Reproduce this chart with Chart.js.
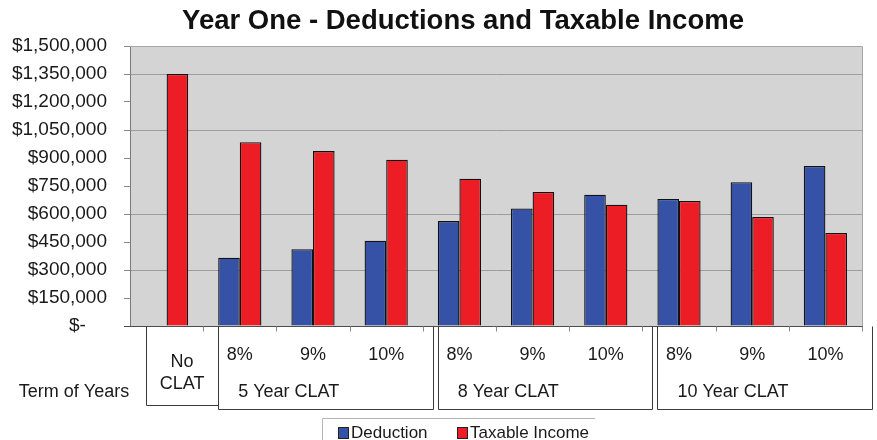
<!DOCTYPE html>
<html>
<head>
<meta charset="utf-8">
<script src="https://cdn.jsdelivr.net/npm/chart.js@4.4.1/dist/chart.umd.min.js"></script>
<style>
html, body { margin: 0; padding: 0; background: #fff; }
#wrap { width: 877px; height: 440px; position: relative; }
</style>
</head>
<body>
<div id="wrap"><canvas id="chart"></canvas></div>
<script>
'use strict';

// Data
var categories    = ['No CLAT', '8%', '9%', '10%', '8%', '9%', '10%', '8%', '9%', '10%'];
var groupLabels   = ['5 Year CLAT', '8 Year CLAT', '10 Year CLAT'];
var groupStarts   = [1, 4, 7];
var groupEnds     = [3, 6, 9];
var deduction     = [null, 366000, 411000, 457000, 562000, 630000, 703000, 680000, 770000, 857000];
var taxableIncome = [1350000, 984000, 937000, 891000, 789000, 718000, 650000, 670000, 584000, 498000];
var yTicks        = [0, 150000, 300000, 450000, 600000, 750000, 900000, 1050000, 1200000, 1350000, 1500000];
var gridValues    = [300000, 600000, 1050000, 1350000];

var FONT = 'Liberation Sans, Arial, Helvetica, sans-serif';
var BLUE = '#3652a6';
var RED  = '#ed1d25';

/**
 * Money label, accounting style
 */
function money(v) {
    if (v === 0) {
        return '$-\u00a0\u00a0\u00a0\u00a0';
    }
    return '$' + v.toLocaleString('en-US');
}

/**
 * Plot background, title, category boxes and legend
 */
var decor = {
    id: 'decor',
    beforeDraw: function (chart) {
        var ctx  = chart.ctx;
        var area = chart.chartArea;
        ctx.save();
        ctx.fillStyle = '#fff';
        ctx.fillRect(0, 0, chart.width, chart.height);
        ctx.fillStyle = '#d4d4d4';
        ctx.fillRect(area.left, area.top, area.right - area.left, area.bottom - area.top);
        ctx.restore();
    },
    afterDraw: function (chart) {
        var ctx  = chart.ctx;
        var area = chart.chartArea;
        var n    = categories.length;
        var w    = (area.right - area.left) / n;
        var edge = function (i) { return area.left + i * w; };
        var i;

        ctx.save();

        // plot frame
        ctx.lineWidth = 1;
        ctx.strokeStyle = '#a6a6a6';
        ctx.beginPath();
        ctx.moveTo(area.left, area.top + 0.5);
        ctx.lineTo(area.right + 0.5, area.top + 0.5);
        ctx.lineTo(area.right + 0.5, area.bottom);
        ctx.stroke();
        ctx.strokeStyle = '#4d4d4d';
        ctx.beginPath();
        ctx.moveTo(area.left - 6, Math.round(area.bottom) + 0.5);
        ctx.lineTo(area.right + 1, Math.round(area.bottom) + 0.5);
        ctx.stroke();

        // title
        ctx.fillStyle = '#111';
        ctx.font = 'bold 27.5px ' + FONT;
        ctx.textAlign = 'center';
        ctx.textBaseline = 'middle';
        ctx.fillText('Year One - Deductions and Taxable Income', 463, 21);

        // category boxes under the axis
        var top = Math.round(area.bottom) + 0.5;
        var boxes = [[edge(0) + 16, edge(1) + 15, 405]];
        for (i = 0; i < groupStarts.length; i++) {
            boxes.push([edge(groupStarts[i]) + 15, edge(groupEnds[i] + 1) + 10, 409]);
        }
        ctx.strokeStyle = '#3a3a3a';
        boxes.forEach(function (b) {
            var l = Math.round(b[0]) + 0.5;
            var r = Math.round(b[1]) + 0.5;
            ctx.fillStyle = '#fff';
            ctx.fillRect(l, top + 1, r - l, b[2] - top - 1);
            ctx.beginPath();
            ctx.moveTo(l, top);
            ctx.lineTo(l, b[2] + 0.5);
            ctx.lineTo(r, b[2] + 0.5);
            ctx.lineTo(r, top);
            ctx.stroke();
        });

        // small axis ticks at category edges
        ctx.strokeStyle = '#888';
        for (i = 1; i <= n; i++) {
            var tx = Math.round(edge(i)) + 0.5;
            ctx.beginPath();
            ctx.moveTo(tx, top);
            ctx.lineTo(tx, top + 5);
            ctx.stroke();
        }

        ctx.fillStyle = '#1a1a1a';
        ctx.font = '18px ' + FONT;
        ctx.textAlign = 'center';
        var noClat = categories[0].split(' ');
        var cx0 = (boxes[0][0] + boxes[0][1]) / 2;
        ctx.fillText(noClat[0], cx0, 362);
        ctx.fillText(noClat[1], cx0, 384);
        for (i = 1; i < n; i++) {
            ctx.fillText(categories[i], edge(i) + w / 2, 355);
        }
        ctx.textAlign = 'left';
        for (i = 0; i < groupLabels.length; i++) {
            ctx.fillText(groupLabels[i], boxes[i + 1][0] + 20, 392);
        }
        ctx.textAlign = 'center';
        ctx.fillText('Term of Years', 74, 392);

        // legend
        ctx.strokeStyle = '#b4b4b4';
        ctx.beginPath();
        ctx.moveTo(322.5, 440);
        ctx.lineTo(322.5, 418.5);
        ctx.lineTo(595, 418.5);
        ctx.stroke();
        ctx.font = '17px ' + FONT;
        ctx.textAlign = 'left';
        var lx = [338, 457];
        chart.data.datasets.forEach(function (ds, k) {
            ctx.fillStyle = ds.backgroundColor;
            ctx.fillRect(lx[k], 427, 10, 11);
            ctx.strokeStyle = '#222';
            ctx.strokeRect(lx[k] + 0.5, 427.5, 10, 11);
            ctx.fillStyle = '#1a1a1a';
            ctx.fillText(ds.label, lx[k] + 13, 433);
        });

        ctx.restore();
    }
};

new Chart(document.getElementById('chart'), {
    type: 'bar',
    data: {
        labels: categories,
        datasets: [
            { label: 'Deduction', data: deduction, backgroundColor: BLUE, borderColor: '#111', borderWidth: 1.3 },
            { label: 'Taxable Income', data: taxableIncome, backgroundColor: RED, borderColor: '#111', borderWidth: 1.3 }
        ]
    },
    options: {
        responsive: true,
        maintainAspectRatio: false,
        animation: false,
        categoryPercentage: 0.59,
        barPercentage: 1,
        layout: { padding: { top: 46, right: 15, bottom: 114, left: 0 } },
        plugins: {
            legend: { display: false },
            title: { display: false },
            tooltip: { enabled: false }
        },
        scales: {
            x: { display: false },
            y: {
                min: 0,
                max: 1500000,
                afterBuildTicks: function (scale) {
                    scale.ticks = yTicks.map(function (v) { return { value: v }; });
                },
                afterFit: function (scale) { scale.width = 130; },
                border: { display: true, color: '#7a7a7a' },
                grid: {
                    color: function (c) {
                        return c.tick && gridValues.indexOf(c.tick.value) >= 0 ? '#9d9d9d' : 'rgba(0,0,0,0)';
                    },
                    tickColor: '#8a8a8a',
                    tickLength: 6,
                    lineWidth: 1
                },
                ticks: {
                    padding: 17,
                    color: '#1a1a1a',
                    font: { family: FONT, size: 19 },
                    callback: function (v) { return money(v); }
                }
            }
        }
    },
    plugins: [decor]
});
</script>
</body>
</html>
